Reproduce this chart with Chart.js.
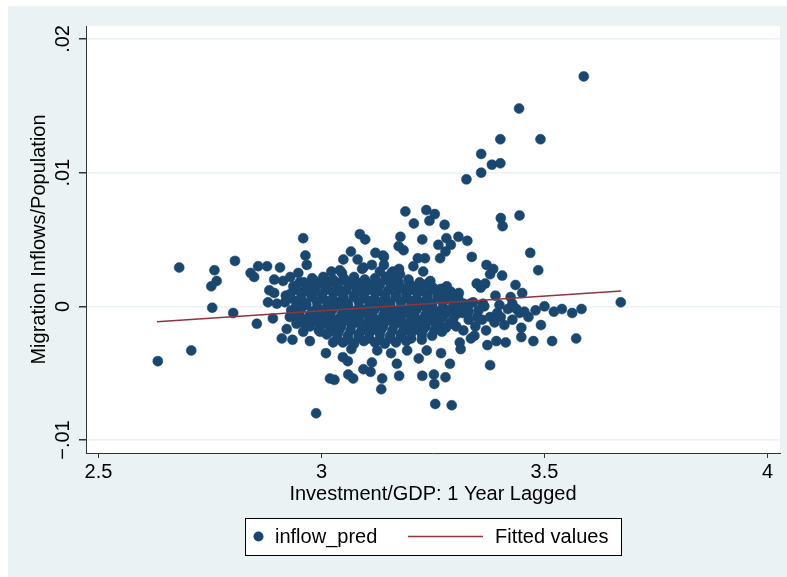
<!DOCTYPE html>
<html>
<head>
<meta charset="utf-8">
<script src="https://cdn.jsdelivr.net/npm/chart.js@4.4.1/dist/chart.umd.min.js"></script>
<style>
  html, body { margin: 0; padding: 0; background: #fff; }
  canvas { display: block; }
</style>
</head>
<body>
<canvas id="scatterChart" width="787" height="577"></canvas>
<script>
// axis ticks
const xTicks = [2.5, 3, 3.5, 4];
const yTicks = [-0.01, 0, 0.01, 0.02];
const yTickLabels = ['\u2212.01', '0', '.01', '.02'];

// inflow_pred: investment/GDP (lagged) vs migration inflows/population
const xInvest = [
    3.588, 3.443, 3.401, 3.491, 3.358, 3.358, 3.382, 3.401, 3.325, 3.402,
    3.406, 3.444, 3.468, 3.486, 3.188, 3.235, 3.254, 3.242, 3.207, 3.276,
    3.177, 3.226, 3.280, 3.307, 3.327, 3.262, 3.290, 3.173, 3.184, 3.278,
    3.337, 3.266, 3.140, 3.216, 3.232, 3.206, 3.140, 3.370, 3.385, 3.378,
    3.405, 3.228, 3.174, 3.160, 3.238, 3.281, 3.348, 3.367, 3.357, 3.435,
    3.450, 3.308, 3.221, 3.390, 3.424, 3.671, 3.583, 3.562, 3.539, 3.521,
    3.500, 3.480, 3.464, 3.444, 3.418, 3.492, 3.571, 3.517, 3.475, 3.448,
    3.448, 3.413, 3.392, 3.372, 3.378, 3.410, 3.369, 3.343, 3.312, 3.288,
    3.268, 3.278, 3.252, 3.253, 3.226, 3.174, 3.255, 3.292, 3.236, 3.218,
    3.136, 3.134, 3.302, 3.316, 3.349, 2.988, 3.019, 3.029, 3.060, 3.071,
    3.094, 3.110, 3.113, 3.048, 3.059, 3.010, 3.169, 3.156, 2.974, 3.067,
    3.125, 3.192, 2.633, 2.708, 2.755, 2.802, 2.855, 2.891, 2.911, 2.935,
    2.880, 2.681, 2.760, 2.765, 2.753, 2.806, 2.841, 2.849, 2.858, 2.878,
    2.907, 2.959, 2.964, 2.967, 2.894, 2.914, 2.930, 2.948, 2.951, 2.883,
    2.894, 2.920, 3.086, 3.098, 3.066, 3.049, 3.081, 3.121, 3.138, 3.113,
    3.094, 3.046, 3.022, 3.157, 3.006, 2.982, 3.278, 2.922, 2.944, 2.997,
    2.959, 2.929, 2.900, 2.937, 3.026, 3.310, 3.288, 3.378, 3.394, 3.333,
    3.362, 3.399, 3.428, 3.195, 3.176,
    3.340, 3.352, 3.365, 3.388, 3.402, 3.428, 3.437, 3.455, 3.345, 3.360,
    3.330, 3.318, 3.335,
    // dense core
    3.041, 3.091, 3.131,
    2.979, 3.004, 3.026, 3.050, 3.073, 3.097, 3.120, 3.144, 3.167,
    2.960, 2.985, 3.008, 3.032, 3.055, 3.079, 3.102, 3.126, 3.150, 3.173, 3.197, 3.220, 3.244,
    2.943, 2.967, 2.990, 3.014, 3.037, 3.061, 3.084, 3.109, 3.131, 3.156, 3.178, 3.203, 3.225, 3.250, 3.272,
    2.938, 2.962, 2.985, 3.009, 3.032, 3.056, 3.079, 3.103, 3.126, 3.150, 3.173, 3.197, 3.220, 3.244, 3.267, 3.290,
    2.929, 2.954, 2.979, 3.001, 3.026, 3.048, 3.073, 3.095, 3.120, 3.142, 3.167, 3.190, 3.214, 3.237, 3.261, 3.284, 3.306,
    2.931, 2.955, 2.978, 3.002, 3.025, 3.049, 3.072, 3.096, 3.119, 3.143, 3.166, 3.190, 3.213, 3.237, 3.260, 3.284, 3.307,
    2.918, 2.943, 2.965, 2.990, 3.012, 3.037, 3.059, 3.084, 3.107, 3.131, 3.154, 3.178, 3.201, 3.225, 3.248, 3.272, 3.295, 3.319,
    2.943, 2.966, 2.990, 3.013, 3.037, 3.060, 3.084, 3.107, 3.131, 3.154, 3.178, 3.201, 3.225, 3.248, 3.272, 3.295, 3.318,
    2.932, 2.954, 2.979, 3.001, 3.026, 3.048, 3.073, 3.095, 3.120, 3.142, 3.167, 3.190, 3.214, 3.237, 3.261, 3.284, 3.308, 3.330,
    2.950, 2.973, 2.997, 3.020, 3.044, 3.067, 3.091, 3.114, 3.138, 3.161, 3.185, 3.208, 3.232, 3.255, 3.279, 3.302,
    2.943, 2.965, 2.990, 3.012, 3.037, 3.059, 3.084, 3.107, 3.131, 3.154, 3.178, 3.201, 3.225, 3.248, 3.272, 3.295,
    2.958, 2.982, 3.005, 3.029, 3.052, 3.076, 3.099, 3.123, 3.146, 3.170, 3.193, 3.217, 3.240, 3.264, 3.287,
    2.974, 2.997, 3.021, 3.044, 3.068, 3.091, 3.115, 3.138, 3.163, 3.185, 3.210, 3.233, 3.257, 3.279,
    2.994, 3.018, 3.041, 3.065, 3.088, 3.112, 3.135, 3.159, 3.182, 3.206, 3.229, 3.253, 3.270,
    3.012, 3.037, 3.059, 3.084, 3.107, 3.131, 3.154, 3.178, 3.201, 3.225, 3.248,
    3.035, 3.060, 3.083, 3.107, 3.131, 3.154, 3.178, 3.201, 3.225,
    3.048, 3.073, 3.095, 3.120, 3.142, 3.167, 3.190
];
const yInflow = [
    0.0172, 0.0148, 0.0125, 0.0125, 0.0114, 0.0100, 0.0106, 0.0107, 0.0095, 0.0066,
    0.0060, 0.0068, 0.0040, 0.0027, 0.0071, 0.0072, 0.0069, 0.0064, 0.0062, 0.0061,
    0.0052, 0.0050, 0.0051, 0.0052, 0.0049, 0.0046, 0.0046, 0.0045, 0.0042, 0.0041,
    0.0037, 0.0036, 0.0037, 0.0036, 0.0036, 0.0030, 0.0031, 0.0031, 0.0028, 0.0024,
    0.0023, 0.0026, 0.0028, 0.0026, 0.0017, 0.0015, 0.0017, 0.0017, 0.0014, 0.0016,
    0.0010, 0.0010, 0.0013, 0.0008, 0.0007, 0.0003, -0.0002, -0.0005, -0.0002, -0.0004,
    0.0000, -0.0003, -0.0008, -0.0005, -0.0002, -0.0014, -0.0024, -0.0026, -0.0026, -0.0023,
    -0.0016, -0.0027, -0.0026, -0.0029, -0.0044, -0.0014, -0.0018, -0.0022, -0.0032, -0.0043,
    -0.0035, -0.0053, -0.0051, -0.0058, -0.0052, -0.0052, -0.0073, -0.0074, -0.0033, -0.0039,
    -0.0054, -0.0062, -0.0015, -0.0005, -0.0008, -0.0080, -0.0054, -0.0055, -0.0051, -0.0054,
    -0.0047, -0.0049, -0.0042, -0.0038, -0.0041, -0.0035, -0.0043, -0.0035, -0.0026, -0.0032,
    -0.0033, -0.0033, -0.0041, -0.0033, -0.0001, -0.0005, -0.0013, -0.0009, -0.0024, -0.0025,
    0.0003, 0.0029, 0.0027, 0.0019, 0.0015, 0.0034, 0.0025, 0.0022, 0.0030, 0.0030,
    0.0029, 0.0051, 0.0038, 0.0031, 0.0020, 0.0019, 0.0022, 0.0025, 0.0018, 0.0012,
    0.0010, 0.0008, 0.0054, 0.0050, 0.0041, 0.0035, 0.0035, 0.0040, 0.0038, 0.0031,
    0.0029, 0.0025, 0.0026, 0.0025, 0.0021, 0.0018, 0.0006, -0.0017, -0.0013, -0.0019,
    -0.0019, -0.0008, 0.0002, 0.0015, -0.0027, -0.0027, -0.0013, -0.0008, -0.0005, 0.0002,
    0.0002, 0.0001, 0.0002, 0.0020, 0.0024,
    0.0003, -0.0003, 0.0000, -0.0012, -0.0008, -0.0010, -0.0002, -0.0004, -0.0015, -0.0010,
    -0.0010, -0.0018, -0.0024,
    // dense core
    0.0027, 0.0028, 0.0026,
    0.0021, 0.0022, 0.0020, 0.0021, 0.0022, 0.0020, 0.0021, 0.0022, 0.0020,
    0.0018, 0.0019, 0.0017, 0.0018, 0.0019, 0.0018, 0.0017, 0.0018, 0.0019, 0.0018, 0.0017, 0.0018, 0.0019,
    0.0015, 0.0014, 0.0016, 0.0015, 0.0015, 0.0016, 0.0014, 0.0015, 0.0016, 0.0015, 0.0014, 0.0015, 0.0016, 0.0014, 0.0013,
    0.0012, 0.0011, 0.0013, 0.0012, 0.0011, 0.0012, 0.0013, 0.0012, 0.0011, 0.0012, 0.0013, 0.0012, 0.0011, 0.0012, 0.0013, 0.0011,
    0.0009, 0.0010, 0.0008, 0.0009, 0.0010, 0.0009, 0.0008, 0.0009, 0.0010, 0.0009, 0.0008, 0.0009, 0.0010, 0.0009, 0.0008, 0.0009, 0.0007,
    0.0006, 0.0005, 0.0007, 0.0006, 0.0005, 0.0006, 0.0007, 0.0006, 0.0005, 0.0006, 0.0007, 0.0006, 0.0005, 0.0006, 0.0007, 0.0006, 0.0005,
    0.0003, 0.0004, 0.0002, 0.0003, 0.0004, 0.0003, 0.0002, 0.0003, 0.0004, 0.0003, 0.0002, 0.0003, 0.0004, 0.0003, 0.0002, 0.0003, 0.0004, 0.0002,
    0.0000, 0.0001, -0.0001, 0.0000, 0.0001, 0.0000, -0.0001, 0.0000, 0.0001, 0.0000, -0.0001, 0.0000, 0.0001, 0.0000, -0.0001, 0.0000, 0.0001,
    -0.0003, -0.0002, -0.0004, -0.0003, -0.0002, -0.0003, -0.0004, -0.0003, -0.0002, -0.0003, -0.0004, -0.0003, -0.0002, -0.0003, -0.0004, -0.0003, -0.0002, -0.0004,
    -0.0006, -0.0007, -0.0005, -0.0006, -0.0007, -0.0006, -0.0005, -0.0006, -0.0007, -0.0006, -0.0005, -0.0006, -0.0007, -0.0006, -0.0005, -0.0006,
    -0.0009, -0.0010, -0.0008, -0.0009, -0.0010, -0.0009, -0.0008, -0.0009, -0.0010, -0.0009, -0.0008, -0.0009, -0.0010, -0.0009, -0.0008, -0.0010,
    -0.0012, -0.0011, -0.0013, -0.0012, -0.0011, -0.0012, -0.0013, -0.0012, -0.0011, -0.0012, -0.0013, -0.0012, -0.0011, -0.0012, -0.0013,
    -0.0015, -0.0014, -0.0016, -0.0015, -0.0014, -0.0015, -0.0016, -0.0015, -0.0014, -0.0015, -0.0016, -0.0015, -0.0014, -0.0016,
    -0.0018, -0.0019, -0.0017, -0.0018, -0.0019, -0.0018, -0.0017, -0.0018, -0.0019, -0.0018, -0.0017, -0.0018, -0.0019,
    -0.0021, -0.0020, -0.0022, -0.0021, -0.0020, -0.0021, -0.0022, -0.0021, -0.0020, -0.0021, -0.0022,
    -0.0024, -0.0025, -0.0023, -0.0024, -0.0025, -0.0024, -0.0023, -0.0024, -0.0025,
    -0.0027, -0.0028, -0.0026, -0.0027, -0.0028, -0.0027, -0.0026
];

// Fitted values (linear fit end points)
const xFit = [2.631, 3.672];
const yFit = [-0.00115, 0.00114];

const navy = '#1A476F';
const maroon = '#90353B';
const bluishGray = '#EAF2F3';
const fontFamily = '"Liberation Sans", Arial, sans-serif';

Chart.defaults.font.family = fontFamily;
Chart.defaults.color = '#000';

// Stata style backdrop: light outer region, white plot region
const backdrop = {
    id: 'backdrop',
    beforeDraw(chart) {
        const ctx = chart.ctx;
        const a = chart.chartArea;
        ctx.save();
        ctx.fillStyle = '#fff';
        ctx.fillRect(0, 0, chart.width, chart.height);
        ctx.fillStyle = bluishGray;
        ctx.fillRect(8, 6, chart.width - 8, chart.height - 6);
        ctx.fillStyle = '#fff';
        ctx.fillRect(a.left, a.top, a.right - a.left, a.bottom - a.top);
        ctx.restore();
    }
};

// rotated y tick labels, as Stata draws them
const yLabels = {
    id: 'yLabels',
    afterDraw(chart) {
        const ctx = chart.ctx;
        const y = chart.scales.y;
        ctx.save();
        ctx.font = '20px ' + fontFamily;
        ctx.fillStyle = '#000';
        ctx.textAlign = 'center';
        ctx.textBaseline = 'middle';
        yTicks.forEach(function(v, i) {
            ctx.save();
            ctx.translate(63, y.getPixelForValue(v));
            ctx.rotate(-Math.PI / 2);
            ctx.fillText(yTickLabels[i], 0, 0);
            ctx.restore();
        });
        ctx.restore();
    }
};

// boxed legend under the x axis title
const boxLegend = {
    id: 'boxLegend',
    afterDraw(chart) {
        const ctx = chart.ctx;
        const sets = chart.data.datasets;
        const cy = 536.5;
        ctx.save();
        ctx.fillStyle = '#fff';
        ctx.fillRect(245.5, 518.5, 376, 37);
        ctx.strokeStyle = '#000';
        ctx.lineWidth = 1;
        ctx.strokeRect(245.5, 518.5, 376, 37);

        ctx.fillStyle = navy;
        ctx.beginPath();
        ctx.arc(258.5, cy, 5, 0, Math.PI * 2);
        ctx.fill();

        ctx.strokeStyle = maroon;
        ctx.lineWidth = 1.5;
        ctx.beginPath();
        ctx.moveTo(408, cy);
        ctx.lineTo(483, cy);
        ctx.stroke();

        ctx.font = '20px ' + fontFamily;
        ctx.fillStyle = '#000';
        ctx.textAlign = 'left';
        ctx.textBaseline = 'middle';
        ctx.fillText(sets[1].label, 275, cy + 1);
        ctx.fillText(sets[0].label, 495, cy + 1);
        ctx.restore();
    }
};

document.addEventListener('DOMContentLoaded', function() {
    const ctx = document.getElementById('scatterChart');

    const points = xInvest.map(function(x, i) { return { x: x, y: yInflow[i] }; });
    const fitPoints = xFit.map(function(x, i) { return { x: x, y: yFit[i] }; });

    new Chart(ctx, {
        type: 'scatter',
        data: {
            datasets: [{
                label: 'Fitted values',
                data: fitPoints,
                showLine: true,
                borderColor: maroon,
                borderWidth: 1.5,
                pointRadius: 0,
                order: 0
            }, {
                label: 'inflow_pred',
                data: points,
                backgroundColor: navy,
                borderColor: navy,
                borderWidth: 0.5,
                pointRadius: 5,
                order: 1
            }]
        },
        options: {
            responsive: false,
            animation: false,
            devicePixelRatio: 1,
            events: [],
            layout: {
                padding: { left: 8, top: 26, right: 7, bottom: 71 }
            },
            plugins: {
                legend: { display: false },
                tooltip: { enabled: false }
            },
            scales: {
                x: {
                    type: 'linear',
                    min: 2.472,
                    max: 4.028,
                    afterBuildTicks: function(scale) {
                        scale.ticks = xTicks.map(function(v) { return { value: v }; });
                    },
                    afterFit: function(scale) { scale.height = 53; },
                    grid: {
                        drawOnChartArea: false,
                        tickColor: '#333',
                        tickLength: 5
                    },
                    border: { color: '#333', width: 1 },
                    ticks: {
                        padding: 2,
                        maxRotation: 0,
                        autoSkip: false,
                        color: '#000',
                        font: { size: 20 },
                        callback: function(v) { return String(v); }
                    },
                    title: {
                        display: true,
                        text: 'Investment/GDP: 1 Year Lagged',
                        color: '#000',
                        font: { size: 20 },
                        padding: { top: 0, bottom: 0 }
                    }
                },
                y: {
                    type: 'linear',
                    min: -0.01097,
                    max: 0.02097,
                    afterBuildTicks: function(scale) {
                        scale.ticks = yTicks.map(function(v) { return { value: v }; });
                    },
                    afterFit: function(scale) { scale.width = 78; },
                    grid: {
                        color: bluishGray,
                        lineWidth: 1.5,
                        tickColor: '#333',
                        tickLength: 7
                    },
                    border: { color: '#333', width: 1 },
                    ticks: { display: false },
                    title: {
                        display: true,
                        text: 'Migration Inflows/Population',
                        color: '#000',
                        font: { size: 20 },
                        padding: { top: 19.5, bottom: 0 }
                    }
                }
            }
        },
        plugins: [backdrop, yLabels, boxLegend]
    });
});
</script>
</body>
</html>
